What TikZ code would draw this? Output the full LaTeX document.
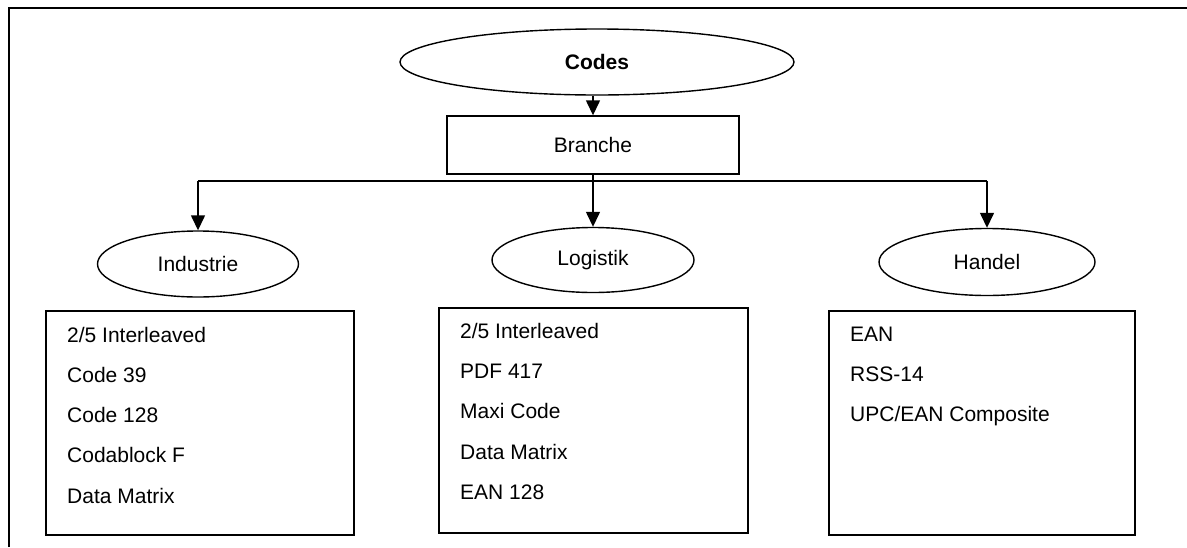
\documentclass[tikz,border=0pt]{standalone}
\usepackage{fontspec}
\setmainfont{Liberation Sans}
\usetikzlibrary{shapes.geometric,arrows.meta}
\begin{document}
\begin{tikzpicture}[x=1pt,y=-1pt,
  every node/.style={font=\fontsize{21}{25}\selectfont},
  oval/.style={draw,ellipse,line width=1.4pt,inner sep=0pt},
  framebox/.style={draw,rectangle,line width=1.4pt,inner sep=0pt},
  entry/.style={anchor=base west,inner sep=0pt},
  link/.style={line width=1.4pt},
  arrow/.style={link,-{Triangle[length=15pt,width=14pt]}}]
\useasboundingbox (0,0) rectangle (1187,547);

% page frame (left and top edges)
\draw[line width=2pt] (9,547) -- (9,8) -- (1187,8);

% root and branch level
\node[oval,minimum width=394pt,minimum height=66pt,font=\fontsize{21}{25}\selectfont\bfseries] (codes) at (597,62) {Codes};
\node[framebox,minimum width=292pt,minimum height=58pt] (branche) at (593,145) {Branche};

% sectors
\node[oval,minimum width=201pt,minimum height=66pt] (industrie) at (198,264) {Industrie};
\node[oval,minimum width=202pt,minimum height=65pt] (logistik) at (593,260) {Logistik};
\node[oval,minimum width=216pt,minimum height=67pt] (handel) at (987,262) {Handel};

% code lists
\node[framebox,minimum width=308pt,minimum height=224pt] (indbox) at (200,423) {};
\node[framebox,minimum width=309pt,minimum height=225pt] (logbox) at (593.5,420.5) {};
\node[framebox,minimum width=306pt,minimum height=224pt] (hanbox) at (982,423) {};

\foreach \t [count=\i from 0] in {2/5 Interleaved,Code 39,Code 128,Codablock F,Data Matrix}
  \node[entry] (ind\i) at (67,342+40.3*\i) {\t};
\foreach \t [count=\i from 0] in {2/5 Interleaved,PDF 417,Maxi Code,Data Matrix,EAN 128}
  \node[entry] (log\i) at (460,338+40.4*\i) {\t};
\foreach \t [count=\i from 0] in {EAN,RSS-14,UPC/EAN Composite}
  \node[entry] (han\i) at (850,341+40*\i) {\t};

% connectors
\coordinate (bus) at (593,181);
\draw[arrow] (branche.north |- codes.south) -- (branche.north);
\draw[arrow] (branche.south) -- (logistik.north);
\draw[link] (industrie.north |- bus) -- (handel.north |- bus);
\draw[arrow] (industrie.north |- bus) -- (industrie.north);
\draw[arrow] (handel.north |- bus) -- (handel.north);
\end{tikzpicture}
\end{document}
